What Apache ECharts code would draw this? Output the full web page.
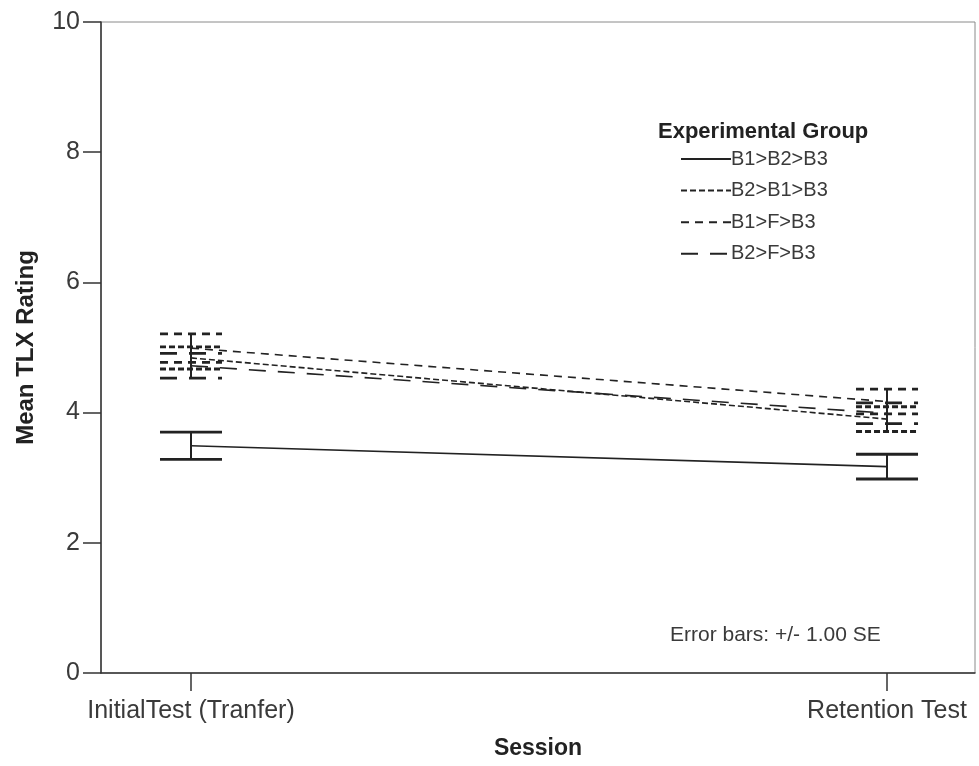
<!DOCTYPE html>
<html>
<head>
<meta charset="utf-8">
<script src="https://cdn.jsdelivr.net/npm/echarts@6/dist/echarts.min.js"></script>
<style>html,body{margin:0;padding:0;background:#fff;}#c{width:979px;height:766px;}</style>
</head>
<body>
<div id="c"></div>
<script>
const sessions = ['InitialTest (Tranfer)', 'Retention Test'];
const groups = ['B1>B2>B3', 'B2>B1>B3', 'B1>F>B3', 'B2>F>B3'];
const meanInitial = [3.49, 4.84, 4.99, 4.72];
const meanRetention = [3.17, 3.90, 4.17, 3.99];
const seInitial = [0.21, 0.17, 0.22, 0.19];
const seRetention = [0.19, 0.19, 0.19, 0.16];
const yTicks = [0, 2, 4, 6, 8, 10];

const dashes = [null, [6, 3], [8, 6], [17, 12]];
const ink = '#222';
const textCol = '#3a3a3a';
const font = '"Liberation Sans", Arial, sans-serif';

const chart = echarts.init(document.getElementById('c'), null, {renderer: 'canvas'});

const series = [];
groups.forEach((g, i) => {
  series.push({
    name: g,
    type: 'line',
    symbol: 'none',
    data: [[0, meanInitial[i]], [1, meanRetention[i]]],
    lineStyle: {color: ink, width: 1.6, type: dashes[i] || 'solid'},
    itemStyle: {color: ink},
    z: 3
  });
});
groups.forEach((g, i) => {
  const d = [
    [0, meanInitial[i] - seInitial[i], meanInitial[i] + seInitial[i]],
    [1, meanRetention[i] - seRetention[i], meanRetention[i] + seRetention[i]]
  ];
  series.push({
    name: g + ' error',
    type: 'custom',
    data: d,
    encode: {x: 0, y: [1, 2]},
    z: 4,
    renderItem: function (params, api) {
      const x = api.value(0);
      const lo = api.coord([x, api.value(1)]);
      const hi = api.coord([x, api.value(2)]);
      const hw = 31;
      const capStyle = {stroke: ink, lineWidth: 2.8, lineDash: dashes[i] || null};
      return {
        type: 'group',
        children: [
          {type: 'line', shape: {x1: lo[0], y1: lo[1], x2: hi[0], y2: hi[1]}, style: {stroke: ink, lineWidth: 2}},
          {type: 'line', shape: {x1: hi[0] - hw, y1: hi[1], x2: hi[0] + hw, y2: hi[1]}, style: capStyle},
          {type: 'line', shape: {x1: lo[0] - hw, y1: lo[1], x2: lo[0] + hw, y2: lo[1]}, style: capStyle}
        ]
      };
    }
  });
});

chart.setOption({
  animation: false,
  backgroundColor: '#fff',
  textStyle: {fontFamily: font},
  title: [
    {text: 'Experimental Group', left: 658, top: 121, padding: 0,
     textStyle: {fontFamily: font, fontSize: 22, fontWeight: 'bold', color: '#222'}},
    {text: 'Error bars: +/- 1.00 SE', left: 670, top: 625, padding: 0,
     textStyle: {fontFamily: font, fontSize: 21, fontWeight: 'normal', color: textCol}}
  ],
  legend: {
    data: groups,
    orient: 'vertical',
    left: 680,
    top: 149,
    padding: 0,
    itemWidth: 50,
    itemHeight: 20,
    itemGap: 11.6,
    selectedMode: false,
    itemStyle: {opacity: 0},
    textStyle: {fontFamily: font, fontSize: 20, color: textCol, padding: [0, 0, 0, -5]}
  },
  grid: {left: 101, right: 4, top: 22, bottom: 93, show: true, borderColor: '#8a8a8a', borderWidth: 1, containLabel: false},
  xAxis: {
    type: 'value',
    min: -0.1293,
    max: 1.1264,
    name: 'Session',
    nameLocation: 'middle',
    nameGap: 64,
    nameTextStyle: {fontFamily: font, fontSize: 23, fontWeight: 'bold', color: '#222'},
    axisLine: {show: true, onZero: false, lineStyle: {color: '#333', width: 1.5}},
    axisTick: {show: true, customValues: [0, 1], length: 18, lineStyle: {color: '#333', width: 1.5}},
    axisLabel: {customValues: [0, 1], margin: 26, fontSize: 25, color: textCol, fontFamily: font,
      formatter: v => sessions[Math.round(v)]},
    splitLine: {show: false}
  },
  yAxis: {
    type: 'value',
    min: 0,
    max: 10,
    interval: 2,
    name: 'Mean TLX Rating',
    nameLocation: 'middle',
    nameRotate: 90,
    nameGap: 63,
    nameTextStyle: {fontFamily: font, fontSize: 24, fontWeight: 'bold', color: '#222'},
    axisLine: {show: true, onZero: false, lineStyle: {color: '#333', width: 1.5}},
    axisTick: {show: true, length: 18, lineStyle: {color: '#333', width: 1.5}},
    axisLabel: {margin: 21, fontSize: 25, color: textCol, fontFamily: font,
      customValues: yTicks, formatter: v => String(v)},
    splitLine: {show: false}
  },
  series: series
});
</script>
</body>
</html>
